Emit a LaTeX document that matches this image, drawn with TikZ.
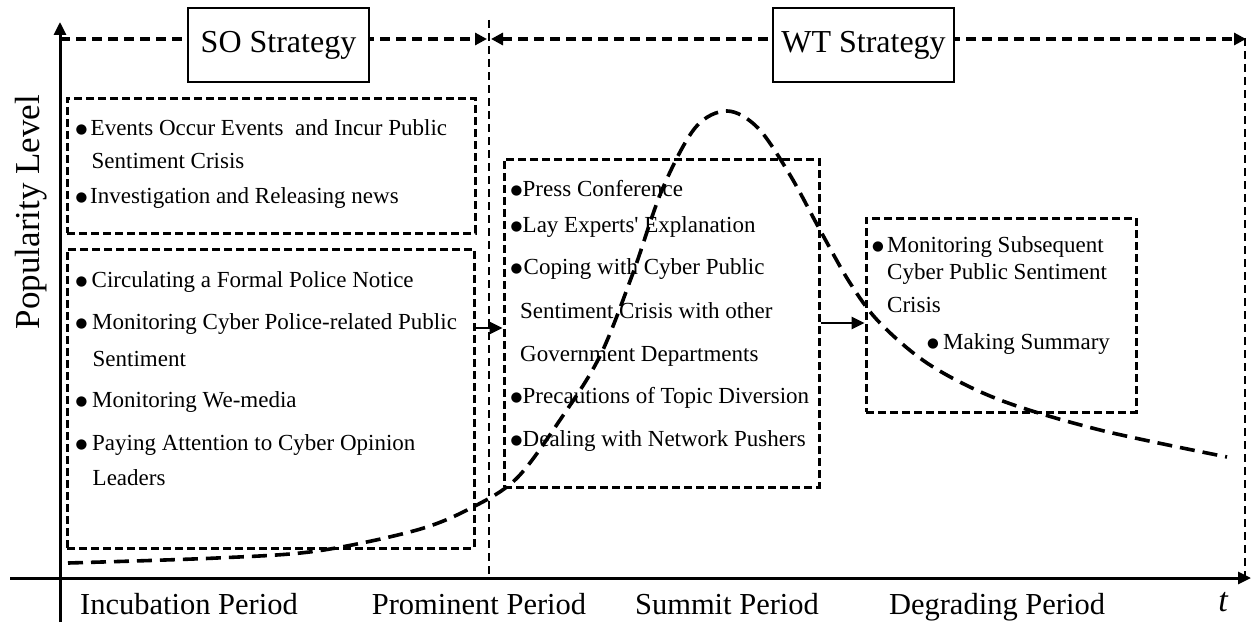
\documentclass[tikz,border=0pt]{standalone}
\usepackage{fontspec}
\setmainfont{Liberation Serif}
\newfontfamily\symf{DejaVu Sans}
\usetikzlibrary{arrows.meta,fit}
% bullet mark followed by a fixed gap
\newcommand\bul[1][15pt]{\makebox[#1][l]{\raisebox{1.2pt}{\symf\fontsize{13.5}{13.5}\selectfont ●}}}
\tikzset{
  dbox/.style={draw, dash pattern=on 8pt off 4pt, line width=3pt, inner sep=0pt},
  divider/.style={dash pattern=on 8pt off 5pt, line width=2.6pt},
  topline/.style={dash pattern=on 10pt off 6pt, line width=3.4pt},
  trend/.style={dash pattern=on 15pt off 8pt, line width=3.6pt, line cap=butt},
  axisline/.style={line width=3pt},
  flow/.style={line width=2.6pt, -{Triangle[length=13pt,width=12pt]}},
  sbox/.style={draw, line width=2.8pt, fill=white, minimum width=181pt, minimum height=74pt, inner sep=0pt,
               font=\fontsize{32}{38}\selectfont},
  txt/.style={anchor=base west, inner sep=0pt, font=\fontsize{23}{27}\selectfont},
  period/.style={anchor=base, inner sep=0pt, font=\fontsize{30.5}{36}\selectfont},
}
\begin{document}
\begin{tikzpicture}[x=1pt,y=-1pt]
\useasboundingbox (0,0) rectangle (1252,626);

% axes
\coordinate (ybot) at (60,622);
\coordinate (ytop) at (60,22);
\coordinate (xl) at (10,578);
\coordinate (xr) at (1251,578);
\draw[axisline, -{Triangle[length=13pt,width=12pt]}] (ybot) -- (ytop);
\draw[axisline, -{Triangle[length=13pt,width=12pt]}] (xl) -- (xr);

% period dividers
\coordinate (d1t) at (489,20);
\coordinate (d1b) at (489,578);
\coordinate (d2t) at (1245,38);
\coordinate (d2b) at (1245,578);
\draw[divider] (d1t) -- (d1b);
\draw[divider] (d2t) -- (d2b);

% strategy spans along the top
\coordinate (soL) at (60,39);
\coordinate (soR) at (487,39);
\coordinate (wtL) at (491,39);
\coordinate (wtR) at (1246,39);
\draw[topline, -{Triangle[length=12pt,width=12pt]}] (soL) -- (soR);
\draw[topline, {Triangle[length=12pt,width=12pt]}-{Triangle[length=12pt,width=12pt]}] (wtL) -- (wtR);
\node[sbox] (so) at (278.5,45) {SO Strategy};
\node[sbox] (wt) at (863.5,45) {WT Strategy};

% popularity trend
\draw[trend] plot[smooth, tension=0.55] coordinates {
  (68,563) (217,558) (317,551) (417,530) (473,507) (517,478) (560,420)
  (600,356) (633,273) (662,190) (695,128) (727,111) (758,128) (790,175)
  (820,230) (850,283) (880,323) (930,365) (1000,400) (1100,430) (1227,457)};

% measure boxes
\node[dbox, fit={(67,98) (475,233)}] (boxA) {};
\node[dbox, fit={(67,249) (474,548)}] (boxB) {};
\node[dbox, fit={(504,159) (819,487)}] (boxC) {};
\node[dbox, fit={(866,218) (1136,412)}] (boxD) {};

\coordinate (rowBC) at (0,328);
\coordinate (rowCD) at (0,323);
\draw[flow] (boxB.east |- rowBC) -- (boxC.west |- rowBC);
\draw[flow] (boxC.east |- rowCD) -- (boxD.west |- rowCD);

% incubation measures
\node[txt] (a1) at (75.5,135) {\bul Events Occur Events\ \ and Incur Public};
\node[txt] (a2) at (91.5,168) {Sentiment Crisis};
\node[txt] (a3) at (75.5,203) {\bul[14.5pt]Investigation and Releasing news};

\node[txt] (b1) at (75.5,287) {\bul[16pt]Circulating a Formal Police Notice};
\node[txt] (b2) at (75.5,329) {\bul[16.5pt]Monitoring Cyber Police-related Public};
\node[txt] (b3) at (92.5,366) {Sentiment};
\node[txt] (b4) at (75.5,407) {\bul[16.5pt]Monitoring We-media};
\node[txt] (b5) at (75.5,450) {\bul[16.5pt]Paying Attention to Cyber Opinion};
\node[txt] (b6) at (92.5,485) {Leaders};

% summit measures
\node[txt] (c1) at (510.5,196) {\bul[12pt]Press Conference};
\node[txt] (c2) at (510.5,232) {\bul[12pt]Lay Experts\textquotesingle\ Explanation};
\node[txt] (c3) at (510.5,274) {\bul[13pt]Coping with Cyber Public};
\node[txt] (c4) at (520,318) {Sentiment Crisis with other};
\node[txt] (c5) at (520,361) {Government Departments};
\node[txt] (c6) at (510.5,403) {\bul[12pt]Precautions of Topic Diversion};
\node[txt] (c7) at (510.5,446) {\bul[12pt]Dealing with Network Pushers};

% degrading measures
\node[txt] (e1) at (872,252) {\bul[15pt]Monitoring Subsequent};
\node[txt] (e2) at (887,279) {Cyber Public Sentiment};
\node[txt] (e3) at (887,312) {Crisis};
\node[txt] (e4) at (927,349) {\bul[16pt]Making Summary};

% axis titles
\node[anchor=base, inner sep=0pt, rotate=90, font=\fontsize{35}{40}\selectfont] (ylab) at (39,212) {Popularity Level};
\node[period] (p1) at (189,614) {Incubation Period};
\node[period] (p2) at (479,614) {Prominent Period};
\node[period] (p3) at (727,614) {Summit Period};
\node[period] (p4) at (997,614) {Degrading Period};
\node[anchor=base, inner sep=0pt, font=\fontsize{34}{40}\selectfont\itshape] (tlab) at (1223,611) {t};
\end{tikzpicture}
\end{document}
